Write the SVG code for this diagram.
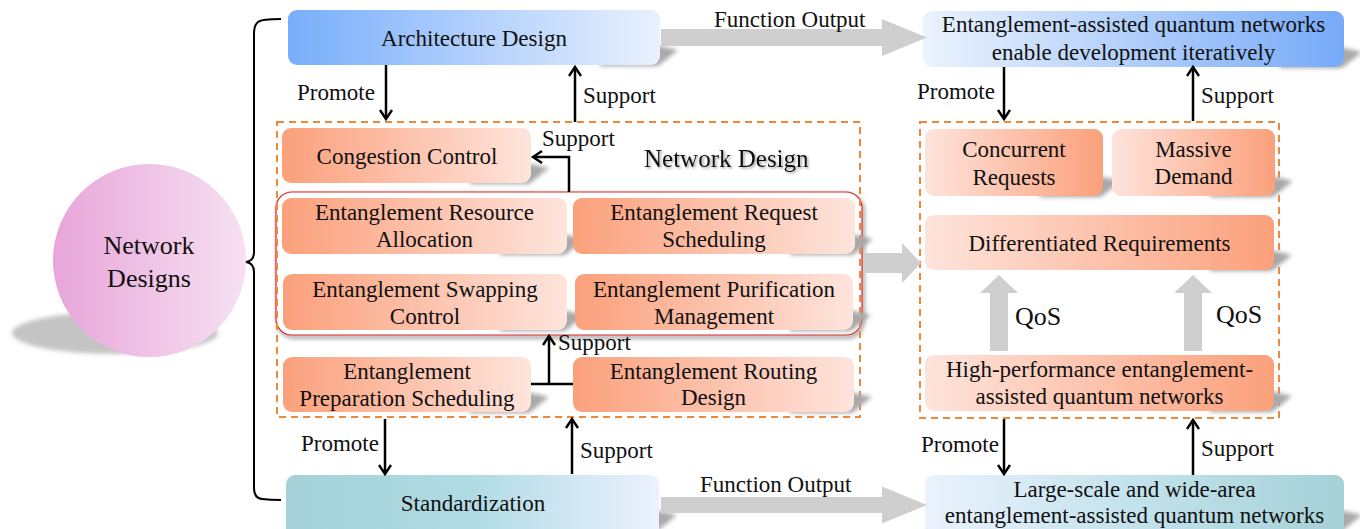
<svg xmlns="http://www.w3.org/2000/svg" width="1360" height="529" viewBox="0 0 1360 529">
<style>
text{font-family:"Liberation Serif","Times New Roman",serif;fill:#111;}
.t{font-size:23px;text-anchor:middle;}
.lb{font-size:23px;}
.big{font-size:26px;}
.sh{fill:#a8a8a8;filter:url(#blur);}
.ln{fill:none;stroke:#000;stroke-width:2.5;}
.garr{fill:#cfcfcf;}
.dash{fill:none;stroke:#f0883a;stroke-width:2;stroke-dasharray:7 5;}
</style>
<defs>
<linearGradient id="gBlueL" x1="0" x2="1" y1="0" y2="0"><stop offset="0" stop-color="#78aefb"/><stop offset="1" stop-color="#e9f1fd"/></linearGradient>
<linearGradient id="gBlueR" x1="0" x2="1" y1="0" y2="0"><stop offset="0" stop-color="#ebf3fd"/><stop offset="1" stop-color="#76aaf8"/></linearGradient>
<linearGradient id="gTealL" x1="0" x2="1" y1="0" y2="0"><stop offset="0" stop-color="#a5d1d7"/><stop offset="0.5" stop-color="#b0dbe5"/><stop offset="1" stop-color="#ebf2fd"/></linearGradient>
<linearGradient id="gTealR" x1="0" x2="1" y1="0" y2="0"><stop offset="0" stop-color="#eaf2fd"/><stop offset="0.5" stop-color="#c3e2ec"/><stop offset="1" stop-color="#a5d1d7"/></linearGradient>
<linearGradient id="gOrL" x1="0" x2="1" y1="0" y2="0"><stop offset="0" stop-color="#fba07b"/><stop offset="1" stop-color="#fee4dc"/></linearGradient>
<linearGradient id="gOrR" x1="0" x2="1" y1="0" y2="0"><stop offset="0" stop-color="#fee4dc"/><stop offset="1" stop-color="#fba07b"/></linearGradient>
<linearGradient id="gPink" x1="0" x2="1" y1="0" y2="0"><stop offset="0" stop-color="#e8a5da"/><stop offset="1" stop-color="#f6e1f1"/></linearGradient>
<filter id="blur" x="-20%" y="-50%" width="140%" height="200%"><feGaussianBlur stdDeviation="2.2"/></filter>
<filter id="blur4" x="-20%" y="-50%" width="140%" height="200%"><feGaussianBlur stdDeviation="2"/></filter>
<filter id="tsh" x="-10%" y="-30%" width="120%" height="160%"><feDropShadow dx="1.5" dy="1.5" stdDeviation="1" flood-color="#777" flood-opacity="0.7"/></filter>
<marker id="ah" markerUnits="userSpaceOnUse" viewBox="-2 -2 14 16" markerWidth="14" markerHeight="16" refX="9" refY="6" orient="auto" overflow="visible">
<path d="M0,0 L9,6 L0,12" fill="none" stroke="#000" stroke-width="2.4"/>
</marker>
</defs>

<g id="network-designs">
<ellipse cx="115" cy="333" rx="103" ry="21" fill="#c4c4c4" filter="url(#blur4)"/>
<circle cx="149.5" cy="260.5" r="96.5" fill="url(#gPink)"/>
<text class="big" text-anchor="middle" x="149" y="254">Network</text>
<text class="big" text-anchor="middle" x="149" y="287">Designs</text>
</g>

<g id="architecture-design">
<polygon class="sh" points="600,66 658,66 678,50 660,46 600,46"/>
<rect x="288" y="10" width="372" height="55" rx="9" fill="url(#gBlueL)"/>
<text class="t" x="474" y="46">Architecture Design</text>
</g>

<g id="standardization">
<polygon class="sh" points="600,531 657,531 677,515 659,511 600,511"/>
<rect x="286" y="475" width="373" height="62" rx="9" fill="url(#gTealL)"/>
<text class="t" x="473" y="511">Standardization</text>
</g>

<g id="network-design">
<text x="644" y="167" style="font-size:25px" filter="url(#tsh)">Network Design</text>
<g id="congestion-control">
<polygon class="sh" points="470,184 529,184 549,168 531,164 470,164"/>
<rect x="282" y="128" width="249" height="55" rx="9" fill="url(#gOrL)"/>
<text class="t" x="407" y="164">Congestion Control</text>
</g>
<g id="core-group">
<rect x="278" y="195" width="585" height="142" rx="16" fill="none" stroke="#777" stroke-width="2.5" filter="url(#blur)"/>
<rect x="276" y="192" width="586" height="143" rx="16" fill="#fff" stroke="#e02424" stroke-width="1.2"/>
</g>
<rect class="dash" x="277" y="122" width="583" height="295"/>
<g id="entanglement-resource-allocation">
<polygon class="sh" points="500,255 565,255 585,239 567,235 500,235"/>
<rect x="282" y="198" width="285" height="56" rx="9" fill="url(#gOrL)"/>
<text class="t"><tspan x="424.5" y="220">Entanglement Resource</tspan><tspan x="424.5" y="247">Allocation</tspan></text>
</g>
<g id="entanglement-request-scheduling">
<polygon class="sh" points="790,255 853,255 873,239 855,235 790,235"/>
<rect x="573" y="198" width="282" height="56" rx="9" fill="url(#gOrL)"/>
<text class="t"><tspan x="714" y="220">Entanglement Request</tspan><tspan x="714" y="247">Scheduling</tspan></text>
</g>
<g id="entanglement-swapping-control">
<polygon class="sh" points="500,331 565,331 585,315 567,311 500,311"/>
<rect x="283" y="274" width="284" height="56" rx="9" fill="url(#gOrL)"/>
<text class="t"><tspan x="425" y="297">Entanglement Swapping</tspan><tspan x="425" y="324">Control</tspan></text>
</g>
<g id="entanglement-purification-management">
<polygon class="sh" points="790,331 851,331 871,315 853,311 790,311"/>
<rect x="575" y="274" width="278" height="56" rx="9" fill="url(#gOrL)"/>
<text class="t"><tspan x="714" y="297">Entanglement Purification</tspan><tspan x="714" y="324">Management</tspan></text>
</g>
<g id="entanglement-preparation-scheduling">
<polygon class="sh" points="470,413 529,413 549,397 531,393 470,393"/>
<rect x="283" y="357" width="248" height="55" rx="9" fill="url(#gOrL)"/>
<text class="t"><tspan x="407" y="379">Entanglement</tspan><tspan x="407" y="406">Preparation Scheduling</tspan></text>
</g>
<g id="entanglement-routing-design">
<polygon class="sh" points="790,413 852,413 872,397 854,393 790,393"/>
<rect x="573" y="357" width="281" height="55" rx="9" fill="url(#gOrL)"/>
<text class="t"><tspan x="713.5" y="379">Entanglement Routing</tspan><tspan x="713.5" y="405">Design</tspan></text>
</g>
</g>

<g id="quantum-networks-iterative">
<polygon class="sh" points="1280,68 1342,68 1362,52 1344,48 1280,48"/>
<rect x="923" y="11" width="421" height="56" rx="9" fill="url(#gBlueR)"/>
<text class="t"><tspan x="1133.5" y="32">Entanglement-assisted quantum networks</tspan><tspan x="1133.5" y="60">enable development iteratively</tspan></text>
</g>

<g id="requirements">
<rect class="dash" x="920" y="122" width="359" height="296"/>
<g id="concurrent-requests">
<polygon class="sh" points="1040,197 1101,197 1121,181 1103,177 1040,177"/>
<rect x="925" y="129" width="178" height="67" rx="9" fill="url(#gOrR)"/>
<text class="t"><tspan x="1014" y="157">Concurrent</tspan><tspan x="1014" y="185">Requests</tspan></text>
</g>
<g id="massive-demand">
<polygon class="sh" points="1210,197 1273,197 1293,181 1275,177 1210,177"/>
<rect x="1112" y="129" width="163" height="67" rx="9" fill="url(#gOrR)"/>
<text class="t"><tspan x="1193.5" y="157">Massive</tspan><tspan x="1193.5" y="184">Demand</tspan></text>
</g>
<g id="differentiated-requirements">
<polygon class="sh" points="1210,271 1272,271 1292,255 1274,251 1210,251"/>
<rect x="925" y="215" width="349" height="55" rx="9" fill="url(#gOrR)"/>
<text class="t" x="1099.5" y="251">Differentiated Requirements</text>
</g>
<g id="high-performance-networks">
<polygon class="sh" points="1210,412 1272,412 1292,396 1274,392 1210,392"/>
<rect x="925" y="355" width="349" height="56" rx="9" fill="url(#gOrR)"/>
<text class="t"><tspan x="1099.5" y="377">High-performance entanglement-</tspan><tspan x="1099.5" y="404">assisted quantum networks</tspan></text>
</g>
</g>

<g id="large-scale-networks">
<polygon class="sh" points="1280,531 1342,531 1362,515 1344,511 1280,511"/>
<rect x="925" y="475" width="419" height="62" rx="9" fill="url(#gTealR)"/>
<text class="t"><tspan x="1134.5" y="497">Large-scale and wide-area</tspan><tspan x="1134.5" y="523">entanglement-assisted quantum networks</tspan></text>
</g>

<g id="connectors">
<path d="M281,19 Q262,19 258,22 Q254,25 254,34 L254,252 Q254,261 246,262 Q254,263 254,272 L254,488 Q254,498 262,499 Q270,500 281,500" fill="none" stroke="#000" stroke-width="2"/>
<polygon class="garr" points="661,29 882,29 882,19 927,37.5 882,56 882,46 661,46"/>
<polygon class="garr" points="661,497 882,497 882,486.5 927,505 882,523.5 882,513 661,513"/>
<polygon class="garr" points="863,253 902,253 902,243 921,263 902,283 902,273 863,273"/>
<polygon class="garr" points="990,351 990,293 980,293 999,275 1018,293 1008,293 1008,351"/>
<polygon class="garr" points="1184,351 1184,293 1174,293 1193,275 1212,293 1202,293 1202,351"/>
<line class="ln" x1="386" y1="65" x2="386" y2="119" marker-end="url(#ah)"/>
<line class="ln" x1="575" y1="122" x2="575" y2="67" marker-end="url(#ah)"/>
<path class="ln" d="M569,192 V157 H533" marker-end="url(#ah)"/>
<path class="ln" d="M531,384 H573"/>
<line class="ln" x1="549" y1="384" x2="549" y2="336" marker-end="url(#ah)"/>
<line class="ln" x1="385" y1="419" x2="385" y2="474" marker-end="url(#ah)"/>
<line class="ln" x1="572" y1="474" x2="572" y2="419" marker-end="url(#ah)"/>
<line class="ln" x1="1004" y1="67" x2="1004" y2="119" marker-end="url(#ah)"/>
<line class="ln" x1="1193" y1="121" x2="1193" y2="67" marker-end="url(#ah)"/>
<line class="ln" x1="1004" y1="419" x2="1004" y2="474" marker-end="url(#ah)"/>
<line class="ln" x1="1193" y1="475" x2="1193" y2="420" marker-end="url(#ah)"/>
<text class="lb" x="714" y="27">Function Output</text>
<text class="lb" x="700" y="492">Function Output</text>
<text class="lb" x="297" y="100">Promote</text>
<text class="lb" x="583" y="103">Support</text>
<text class="lb" x="542" y="146">Support</text>
<text class="lb" x="558" y="350">Support</text>
<text class="lb" x="301" y="451">Promote</text>
<text class="lb" x="580" y="458">Support</text>
<text class="lb" x="917" y="99">Promote</text>
<text class="lb" x="1201" y="103">Support</text>
<text class="lb" x="921" y="452">Promote</text>
<text class="lb" x="1201" y="456">Support</text>
<text class="big" x="1015" y="325">QoS</text>
<text class="big" x="1216" y="323">QoS</text>
</g>
</svg>
